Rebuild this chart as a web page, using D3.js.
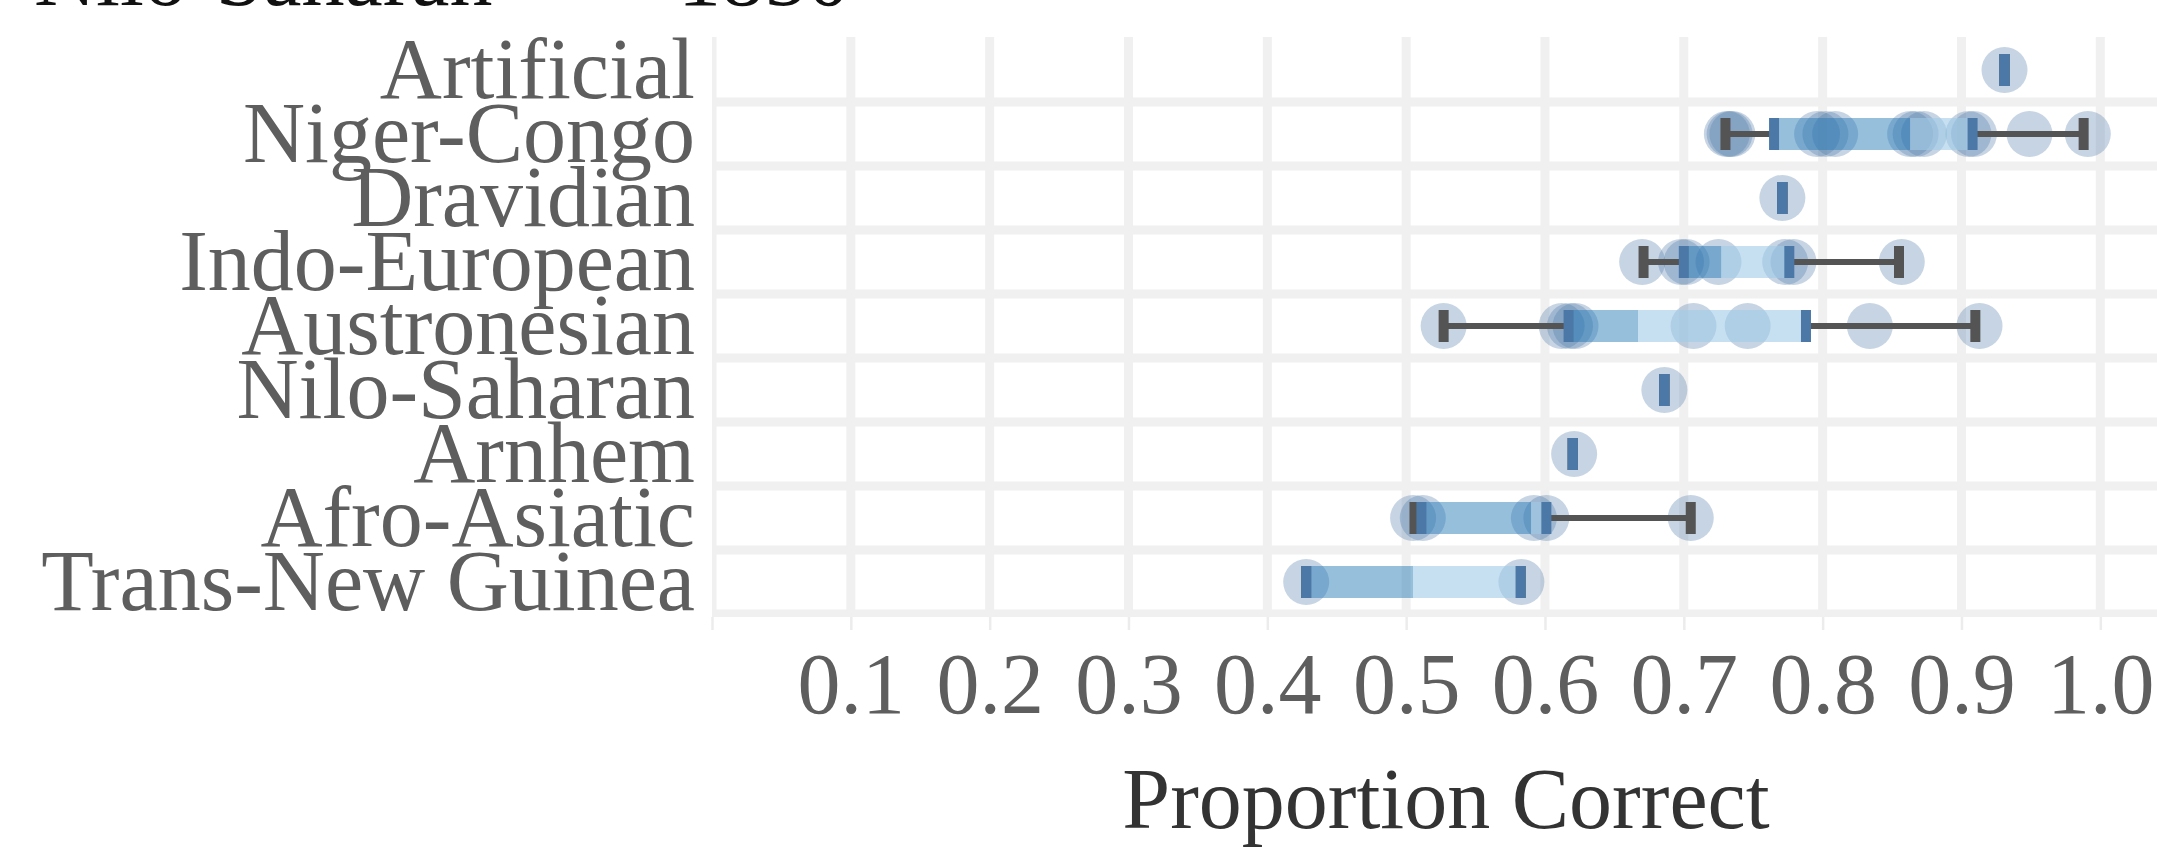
<!DOCTYPE html>
<html>
<head>
<meta charset="utf-8">
<script src="https://d3js.org/d3.v7.min.js"></script>
<style>
  body { margin: 0; background: #fff; }
  svg { display: block; font-family: "Liberation Serif", "Times New Roman", serif; }
</style>
</head>
<body>
<svg width="2157" height="855"></svg>
<script>
var families = ["Artificial", "Niger-Congo", "Dravidian", "Indo-European", "Austronesian",
                "Nilo-Saharan", "Arnhem", "Afro-Asiatic", "Trans-New Guinea"];

// individual languages, one list per family
var points = [
  [0.931],
  [0.731, 0.733, 0.735, 0.796, 0.802, 0.809, 0.863, 0.867, 0.873, 0.905, 0.909, 0.949, 0.991],
  [0.771],
  [0.670, 0.698, 0.702, 0.725, 0.773, 0.779, 0.857],
  [0.527, 0.612, 0.618, 0.622, 0.707, 0.746, 0.834, 0.913],
  [0.686],
  [0.621],
  [0.505, 0.512, 0.592, 0.601, 0.705],
  [0.428, 0.583]
];

// box summaries
var whiskerLo = [0.931, 0.730, 0.771, 0.671, 0.527, 0.686, 0.620, 0.506, 0.428];
var q1        = [0.931, 0.765, 0.771, 0.700, 0.617, 0.686, 0.620, 0.511, 0.428];
var median    = [0.931, 0.863, 0.771, 0.727, 0.667, 0.686, 0.620, 0.590, 0.505];
var q3        = [0.931, 0.908, 0.771, 0.776, 0.788, 0.686, 0.620, 0.601, 0.5825];
var whiskerHi = [0.931, 0.988, 0.771, 0.855, 0.910, 0.686, 0.620, 0.705, 0.5825];

var xTicks = [0, 0.1, 0.2, 0.3, 0.4, 0.5, 0.6, 0.7, 0.8, 0.9, 1.0];
var xTickLabels = ["", "0.1", "0.2", "0.3", "0.4", "0.5", "0.6", "0.7", "0.8", "0.9", "1.0"];

var svg = d3.select("svg"),
    width = +svg.attr("width"),
    height = +svg.attr("height");

var panel = {left: 712, top: 37, right: width, bottom: 617};

var x = d3.scaleLinear().domain([0, 1]).range([712, 2100.3]);
var y = d3.scaleBand().domain(families).range([38, 614]).padding(0);
var bw = y.bandwidth();

svg.append("defs").append("clipPath").attr("id", "panel")
  .append("rect")
    .attr("x", panel.left).attr("y", panel.top)
    .attr("width", panel.right - panel.left).attr("height", panel.bottom - panel.top);

// cut-off text from the plot above
var header = svg.append("g").attr("fill", "#111").style("font-size", "86px");
header.append("text").attr("x", 34).attr("y", 5).text("Nilo-Saharan");
header.append("text").attr("x", 678).attr("y", 5).text("1850");

var grid = svg.append("g").attr("clip-path", "url(#panel)")
    .attr("stroke", "#f0f0f0").attr("stroke-width", 9);

grid.selectAll("line.v")
  .data(xTicks)
  .enter().append("line")
    .attr("class", "v")
    .attr("x1", function(d) { return x(d); })
    .attr("x2", function(d) { return x(d); })
    .attr("y1", panel.top)
    .attr("y2", panel.bottom);

grid.selectAll("line.h")
  .data(families)
  .enter().append("line")
    .attr("class", "h")
    .attr("x1", panel.left)
    .attr("x2", panel.right)
    .attr("y1", function(d) { return y(d) + bw; })
    .attr("y2", function(d) { return y(d) + bw; });

// x axis
var xAxis = svg.append("g")
    .attr("transform", "translate(0," + panel.bottom + ")")
    .call(d3.axisBottom(x)
      .tickValues(xTicks)
      .tickFormat(function(d, i) { return xTickLabels[i]; })
      .tickSize(13));
xAxis.select(".domain").remove();
xAxis.selectAll(".tick line").attr("stroke", "#ececec").attr("stroke-width", 2.5);
xAxis.selectAll(".tick text")
    .attr("y", 96).attr("dy", 0)
    .attr("fill", "#5e5e5e")
    .style("font-size", "86px")
    .style("font-family", "'Liberation Serif', 'Times New Roman', serif");

// y axis
var yAxis = svg.append("g")
    .attr("transform", "translate(" + panel.left + ",0)")
    .call(d3.axisLeft(y).tickSize(0).tickPadding(17));
yAxis.select(".domain").remove();
yAxis.selectAll(".tick text")
    .attr("fill", "#5e5e5e")
    .style("font-size", "86px")
    .style("font-family", "'Liberation Serif', 'Times New Roman', serif");

svg.append("text")
    .attr("x", 1446).attr("y", 828)
    .attr("text-anchor", "middle")
    .attr("fill", "#333")
    .style("font-size", "86px")
    .text("Proportion Correct");

// marks
var rows = svg.append("g").selectAll("g.row")
  .data(families)
  .enter().append("g")
    .attr("class", "row")
    .attr("transform", function(d) { return "translate(0," + (y(d) + bw / 2) + ")"; });

var boxH = 32, barW = 10;

rows.selectAll("circle")
  .data(function(d, i) { return points[i]; })
  .enter().append("circle")
    .attr("cx", function(d) { return x(d); })
    .attr("cy", 0)
    .attr("r", 23)
    .attr("fill", "#4e79a7")
    .attr("fill-opacity", 0.32);

rows.each(function(d, i) {
  var g = d3.select(this);
  // whiskers and caps
  [[whiskerLo[i], q1[i]], [q3[i], whiskerHi[i]]].forEach(function(w) {
    g.append("line")
      .attr("x1", x(w[0])).attr("x2", x(w[1]))
      .attr("y1", 0).attr("y2", 0)
      .attr("stroke", "#545454").attr("stroke-width", 6);
  });
  [whiskerLo[i], whiskerHi[i]].forEach(function(v) {
    g.append("rect")
      .attr("x", x(v) - barW / 2).attr("y", -boxH / 2)
      .attr("width", barW).attr("height", boxH)
      .attr("fill", "#545454");
  });

  // box, split at the median
  g.append("rect")
    .attr("x", x(q1[i])).attr("y", -boxH / 2)
    .attr("width", x(median[i]) - x(q1[i])).attr("height", boxH)
    .attr("fill", "#1f77b4").attr("fill-opacity", 0.47);
  g.append("rect")
    .attr("x", x(median[i])).attr("y", -boxH / 2)
    .attr("width", x(q3[i]) - x(median[i])).attr("height", boxH)
    .attr("fill", "#a0cbe8").attr("fill-opacity", 0.6);

  [q1[i], q3[i]].forEach(function(v) {
    g.append("rect")
      .attr("x", x(v) - barW / 2).attr("y", -boxH / 2)
      .attr("width", barW).attr("height", boxH)
      .attr("fill", "#4c78a8");
  });
});
</script>
</body>
</html>
